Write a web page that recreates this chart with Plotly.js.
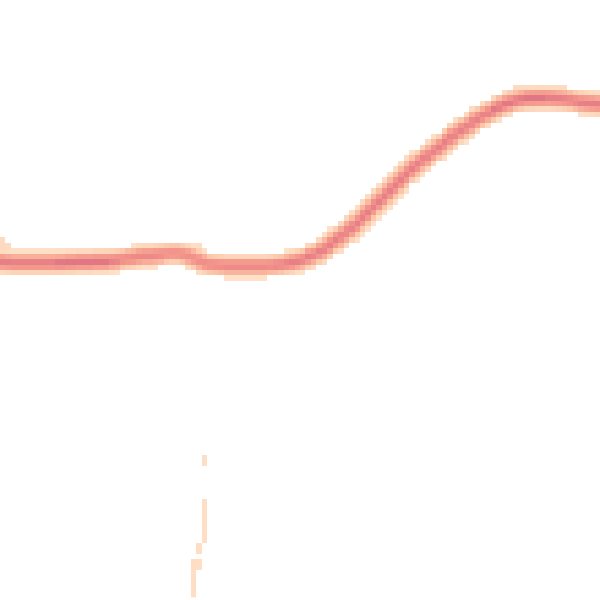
<!DOCTYPE html>
<html>
<head>
<meta charset="utf-8">
<script src="https://cdn.plot.ly/plotly-3.0.1.min.js"></script>
<style>html,body{margin:0;padding:0;background:#fff;}#chart{width:600px;height:600px;}</style>
</head>
<body>
<div id="chart"></div>
<script>
// Grid size (cells)
const nCols = 110;
const nRows = 110;

// Center row of the dense band for each column (row 0 = top)
const centerRow = [
  48.0,48.1,48.2,48.2,48.2,48.2,48.2,48.2,48.2,48.2,
  48.2,48.2,48.1,48.1,48.0,48.0,48.0,47.9,47.9,47.9,
  47.8,47.7,47.5,47.3,47.2,47.0,46.9,46.9,46.8,46.7,
  46.5,46.4,46.4,46.6,46.9,47.3,47.8,48.2,48.5,48.6,
  48.7,48.8,48.8,48.8,48.8,48.8,48.8,48.8,48.8,48.7,
  48.6,48.5,48.3,48.1,47.85,47.6,47.1,46.7,46.2,45.6,
  44.8,44.0,43.4,42.5,41.7,40.9,39.8,38.9,37.8,36.9,
  35.9,34.9,33.9,32.9,31.9,30.9,30.2,29.3,28.6,27.7,
  27.1,26.2,25.3,24.6,23.8,23.3,22.5,21.8,21.3,20.7,
  20.2,19.6,19.2,18.8,18.5,18.3,18.1,18.05,18.0,18.0,
  18.0,18.05,18.15,18.25,18.4,18.6,18.8,18.9,19.0,19.1
];

// Peak density of the band in each column
const peakDensity = [
  0.95,0.95,0.95,0.95,0.95,0.95,0.95,0.95,0.95,0.95,
  1.0,1.0,1.0,1.0,1.0,1.0,1.0,1.0,1.0,1.0,
  0.95,0.95,0.9,0.9,0.9,0.9,0.9,0.9,0.9,0.9,
  0.85,0.85,0.85,0.85,0.85,0.85,0.85,0.88,0.9,0.9,
  0.9,0.9,0.9,0.9,0.9,0.9,0.9,0.9,0.9,0.9,
  0.95,0.95,0.95,0.95,0.95,0.95,0.95,0.95,0.95,0.95,
  0.95,0.95,0.95,0.95,0.95,0.95,0.95,0.95,0.95,0.95,
  0.95,0.95,0.95,0.95,0.95,0.95,0.95,0.95,0.95,0.95,
  0.95,0.95,0.95,0.95,0.95,0.95,0.95,0.95,0.95,0.95,
  1.0,1.0,1.0,1.0,1.0,1.0,1.0,1.0,1.0,1.0,
  0.95,0.95,0.95,0.95,0.95,0.95,0.95,0.95,0.95,0.95
];

// Isolated sparse cells: [column, row, density]
const extraCells = [
  [0,44,0.2],[0,45,0.22],[1,45,0.2],
  [29,45,0.2],[30,45,0.2],[31,45,0.2],[32,45,0.18],[36,45,0.18],
  [94,16,0.2],[95,16,0.2],[96,16,0.2],[102,16,0.2],[103,16,0.2],[109,21,0.2],
  [37,84,0.16],[37,85,0.16],
  [37,92,0.16],[37,93,0.17],[37,94,0.17],[37,95,0.16],[37,96,0.16],[37,97,0.16],[37,98,0.16],[37,99,0.16],
  [36,100,0.17],[36,101,0.17],
  [35,103,0.18],[36,103,0.17],[35,104,0.18],[36,104,0.17],
  [35,105,0.17],[35,106,0.18],[35,107,0.17],[35,108,0.16],[35,109,0.16]
];

const bandWidth = 1.15;
const cutoff = 0.13;

const xs = [], ys = [];
for (let c = 0; c < nCols; c++) xs.push(c);
for (let r = 0; r < nRows; r++) ys.push(r);

const z = [];
for (let r = 0; r < nRows; r++) {
  const row = [];
  for (let c = 0; c < nCols; c++) {
    const cl = centerRow[Math.max(0, c - 1)], cr = centerRow[Math.min(nCols - 1, c + 1)];
    const slope = (cr - cl) / ((Math.min(nCols - 1, c + 1) - Math.max(0, c - 1)) || 1);
    const s = bandWidth * Math.sqrt(1 + slope * slope);
    const d = r - centerRow[c];
    const v = peakDensity[c] * Math.exp(-0.5 * (d / s) * (d / s));
    row.push(v >= cutoff ? v : null);
  }
  z.push(row);
}
extraCells.forEach(([c, r, v]) => {
  if (z[r][c] === null || z[r][c] < v) z[r][c] = v;
});

const trace = {
  type: 'heatmap',
  x: xs,
  y: ys,
  z: z,
  zmin: cutoff,
  zmax: 1,
  colorscale: [
    [0, '#fee2ca'],
    [0.3, '#fcc8ab'],
    [0.6, '#f6a090'],
    [0.85, '#f08e8a'],
    [1, '#e07784']
  ],
  showscale: false,
  hoverinfo: 'skip',
  zsmooth: false
};

const layout = {
  width: 600,
  height: 600,
  margin: {l: 0, r: 0, t: 0, b: 0, pad: 0},
  paper_bgcolor: '#ffffff',
  plot_bgcolor: '#ffffff',
  xaxis: {visible: false, range: [-0.5, nCols - 0.5], fixedrange: true},
  yaxis: {visible: false, range: [nRows, 0], fixedrange: true},
  showlegend: false
};

Plotly.newPlot('chart', [trace], layout, {displayModeBar: false, staticPlot: true});
</script>
</body>
</html>
